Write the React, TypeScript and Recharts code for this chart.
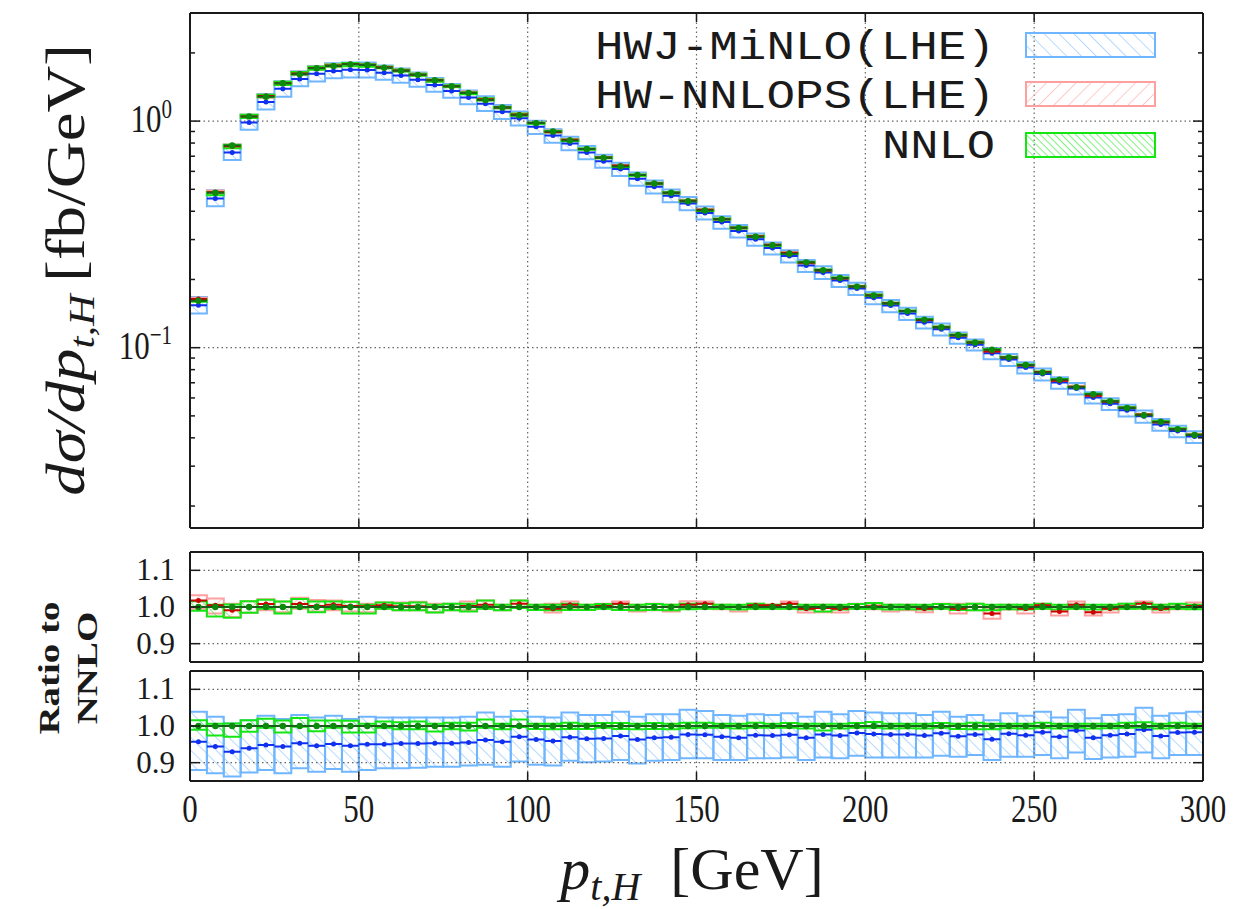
import React from 'react';
import { ComposedChart, XAxis, YAxis, ReferenceArea, ReferenceLine, Line, Scatter } from 'recharts';

// bins in p_t,H [GeV], 5 GeV wide
const binLo = [
  0, 5, 10, 15, 20, 25, 30, 35, 40, 45, 50, 55, 60, 65, 70, 75, 80, 85, 90, 95,
  100, 105, 110, 115, 120, 125, 130, 135, 140, 145, 150, 155, 160, 165, 170, 175, 180, 185, 190, 195,
  200, 205, 210, 215, 220, 225, 230, 235, 240, 245, 250, 255, 260, 265, 270, 275, 280, 285, 290, 295,
];
const binWidth = 5;

// NNLO dsigma/dpt [fb/GeV]
const nnloXsec = [
  0.161, 0.483, 0.781, 1.049, 1.28, 1.47, 1.61, 1.71, 1.75, 1.78,
  1.77, 1.72, 1.67, 1.6, 1.516, 1.426, 1.33, 1.24, 1.149, 1.06,
  0.98, 0.9, 0.822, 0.753, 0.689, 0.631, 0.578, 0.53, 0.483, 0.443,
  0.403, 0.369, 0.338, 0.309, 0.283, 0.26, 0.238, 0.22, 0.203, 0.186,
  0.17, 0.157, 0.145, 0.133, 0.123, 0.1137, 0.1055, 0.098, 0.0906, 0.0839,
  0.0778, 0.0723, 0.0669, 0.0623, 0.058, 0.0542, 0.0503, 0.0471, 0.0437, 0.0412,
];
// NNLO scale band, relative to NNLO
const nnloLo = [
  0.99, 0.974, 0.971, 0.984, 0.995, 0.982, 0.998, 0.986, 0.995, 0.982,
  0.982, 0.995, 0.991, 0.991, 0.985, 0.991, 0.988, 0.995, 0.991, 0.997,
  0.992, 0.991, 0.992, 0.992, 0.995, 0.992, 0.991, 0.992, 0.991, 0.994,
  0.995, 0.995, 0.993, 0.995, 0.995, 0.995, 0.993, 0.988, 0.993, 0.995,
  0.995, 0.993, 0.994, 0.993, 0.995, 0.992, 0.991, 0.991, 0.994, 0.993,
  0.995, 0.993, 0.995, 0.993, 0.994, 0.995, 0.996, 0.993, 0.995, 0.994,
];
const nnloHi = [
  1.016, 1.006, 1.007, 1.016, 1.02, 1.015, 1.022, 1.015, 1.015, 1.014,
  1.006, 1.012, 1.01, 1.012, 1.006, 1.009, 1.009, 1.018, 1.006, 1.018,
  1.006, 1.006, 1.009, 1.006, 1.008, 1.008, 1.006, 1.008, 1.006, 1.009,
  1.009, 1.006, 1.006, 1.009, 1.006, 1.008, 1.006, 1.006, 1.006, 1.008,
  1.011, 1.006, 1.006, 1.006, 1.008, 1.006, 1.009, 1.006, 1.006, 1.006,
  1.009, 1.006, 1.006, 1.006, 1.006, 1.009, 1.01, 1.006, 1.009, 1.006,
];
const nnloSelf = binLo.map(() => 1); // NNLO / NNLO

// HW-NNLOPS(LHE) / NNLO
const nnlopsRatio = [
  1.018, 1.005, 0.991, 1.0, 1.008, 1.0, 1.008, 1.003, 1.006, 1.003,
  1.002, 1.005, 1.002, 1.002, 1.0, 1.0, 1.003, 1.006, 1.0, 1.009,
  1.0, 0.995, 1.006, 1.0, 1.003, 1.009, 1.0, 1.0, 1.0, 1.006,
  1.009, 1.0, 1.0, 1.005, 1.005, 1.009, 0.995, 0.997, 0.995, 1.0,
  1.002, 1.0, 1.0, 0.995, 1.0, 0.995, 1.0, 0.982, 1.0, 0.995,
  1.005, 0.988, 1.006, 0.986, 0.995, 1.002, 1.009, 0.995, 1.0, 1.003,
];
const nnlopsLo = [
  0.995, 0.982, 0.973, 0.984, 0.991, 0.986, 0.995, 0.988, 0.991, 0.988,
  0.986, 0.995, 0.991, 0.991, 0.986, 0.991, 0.991, 0.995, 0.991, 0.997,
  0.993, 0.985, 0.994, 0.993, 0.995, 0.993, 0.988, 0.991, 0.988, 0.995,
  0.995, 0.994, 0.988, 0.995, 0.995, 0.995, 0.985, 0.986, 0.985, 0.995,
  0.994, 0.988, 0.991, 0.986, 0.995, 0.982, 0.991, 0.968, 0.993, 0.982,
  0.995, 0.977, 0.995, 0.977, 0.985, 0.995, 0.995, 0.985, 0.994, 0.995,
];
const nnlopsHi = [
  1.032, 1.023, 1.009, 1.016, 1.021, 1.015, 1.025, 1.019, 1.018, 1.014,
  1.009, 1.012, 1.012, 1.014, 1.009, 1.009, 1.015, 1.018, 1.006, 1.018,
  1.006, 1.009, 1.015, 1.006, 1.009, 1.015, 1.006, 1.009, 1.006, 1.016,
  1.015, 1.006, 1.005, 1.009, 1.006, 1.015, 1.005, 1.006, 1.005, 1.009,
  1.009, 1.006, 1.006, 1.005, 1.009, 1.009, 1.009, 0.995, 1.006, 1.005,
  1.009, 1.0, 1.015, 1.0, 1.005, 1.009, 1.015, 1.006, 1.006, 1.012,
];

// HWJ-MiNLO(LHE) / NNLO
const minloRatio = [
  0.957, 0.944, 0.93, 0.939, 0.948, 0.944, 0.953, 0.946, 0.951, 0.946,
  0.95, 0.95, 0.952, 0.952, 0.953, 0.953, 0.955, 0.962, 0.957, 0.971,
  0.963, 0.959, 0.969, 0.965, 0.966, 0.973, 0.963, 0.968, 0.969, 0.977,
  0.976, 0.971, 0.968, 0.975, 0.974, 0.976, 0.968, 0.977, 0.974, 0.981,
  0.978, 0.977, 0.977, 0.974, 0.98, 0.972, 0.977, 0.964, 0.979, 0.975,
  0.983, 0.971, 0.988, 0.968, 0.975, 0.978, 0.99, 0.973, 0.982, 0.983,
];
const minloLo = [
  0.88, 0.871, 0.862, 0.873, 0.88, 0.871, 0.885, 0.875, 0.883, 0.875,
  0.88, 0.885, 0.885, 0.886, 0.889, 0.889, 0.892, 0.894, 0.889, 0.903,
  0.894, 0.892, 0.905, 0.901, 0.903, 0.907, 0.898, 0.905, 0.907, 0.912,
  0.912, 0.907, 0.907, 0.912, 0.912, 0.914, 0.907, 0.914, 0.912, 0.919,
  0.914, 0.914, 0.914, 0.914, 0.919, 0.916, 0.921, 0.907, 0.916, 0.916,
  0.921, 0.912, 0.928, 0.91, 0.914, 0.916, 0.928, 0.912, 0.921, 0.921,
];
const minloHi = [
  1.039, 1.025, 1.007, 1.016, 1.028, 1.019, 1.03, 1.023, 1.028, 1.019,
  1.025, 1.023, 1.023, 1.023, 1.023, 1.023, 1.025, 1.037, 1.025, 1.041,
  1.025, 1.023, 1.037, 1.03, 1.03, 1.039, 1.025, 1.032, 1.032, 1.044,
  1.041, 1.03, 1.028, 1.032, 1.03, 1.035, 1.025, 1.039, 1.032, 1.041,
  1.037, 1.035, 1.035, 1.03, 1.039, 1.025, 1.03, 1.016, 1.035, 1.028,
  1.039, 1.023, 1.044, 1.021, 1.03, 1.032, 1.05, 1.028, 1.035, 1.039,
];

const xTicks = [0, 50, 100, 150, 200, 250, 300];
const xGrid = [50, 100, 150, 200, 250];
const logTicks = [0.02, 0.03, 0.04, 0.05, 0.06, 0.07, 0.08, 0.09, 0.1, 0.2, 0.3, 0.4, 0.5, 0.6, 0.7, 0.8, 0.9, 1, 2, 3];
const logMajor = [0.1, 1];
const ratioTicks = [0.9, 1.0, 1.1];

const SERIF = '"Liberation Serif", "Times New Roman", serif';
const MONO = '"Liberation Mono", "DejaVu Sans Mono", monospace';
const INK = '#1a1a1a';
const GRID = '#666';

type Style = { box: string; hatch: string; line: string; dot: string; r: number };
const MINLO: Style = { box: '#6fb6ff', hatch: 'hatchBlue', line: '#1030f0', dot: '#1030f0', r: 2.5 };
const NNLOPS: Style = { box: '#ffa0a0', hatch: 'hatchRed', line: '#cc0000', dot: '#cc0000', r: 2.5 };
const NNLO: Style = { box: '#14e614', hatch: 'hatchGreen', line: '#1c5c1c', dot: '#0b8a0b', r: 3.2 };

type Bin = { x0: number; x1: number; xc: number; c: number; lo: number; hi: number };

function buildBins(c: number[], lo: number[], hi: number[], norm?: number[]): Bin[] {
  return binLo.map((x0, i) => {
    const k = norm ? norm[i] : 1;
    return { x0, x1: x0 + binWidth, xc: x0 + binWidth / 2, c: c[i] * k, lo: lo[i] * k, hi: hi[i] * k };
  });
}

function boxes(id: string, bins: Bin[], s: Style) {
  return bins.map((b, i) => (
    <ReferenceArea
      key={`${id}-box-${i}`}
      x1={b.x0}
      x2={b.x1}
      y1={b.lo}
      y2={b.hi}
      fill={`url(#${s.hatch})`}
      fillOpacity={1}
      stroke={s.box}
      strokeWidth={2}
      ifOverflow="hidden"
    />
  ));
}

function marks(id: string, bins: Bin[], s: Style) {
  // one flat segment per bin, broken between bins
  const steps: { x: number; y: number | null }[] = [];
  bins.forEach((b) => {
    steps.push({ x: b.x0, y: b.c }, { x: b.x1, y: b.c }, { x: b.x1, y: null });
  });
  const pts = bins.map((b) => ({ x: b.xc, y: b.c }));
  return [
    <Line key={`${id}-line`} data={steps} dataKey="y" type="linear" stroke={s.line} strokeWidth={2}
      dot={false} activeDot={false} connectNulls={false} isAnimationActive={false} />,
    <Scatter key={`${id}-dots`} data={pts} dataKey="y" fill={s.dot} isAnimationActive={false}
      shape={(p: any) => <circle cx={p.cx} cy={p.cy} r={s.r} fill={s.dot} />} />,
  ];
}

function grid(yValues: number[]) {
  return [
    ...xGrid.map((x) => (
      <ReferenceLine key={`gx${x}`} x={x} stroke={GRID} strokeWidth={1.2} strokeDasharray="1.5 3" />
    )),
    ...yValues.map((y) => (
      <ReferenceLine key={`gy${y}`} y={y} stroke={GRID} strokeWidth={1.2} strokeDasharray="1.5 3" />
    )),
  ];
}

const near = (a: number, list: number[]) => list.some((b) => Math.abs(a - b) < 1e-9);

function logLabel(v: number, x: number, y: number) {
  return (
    <text transform={`translate(${x - 18},${y + 11}) scale(1,1.3)`} textAnchor="end" fontFamily={SERIF} fontSize={31} fill={INK}>
      10<tspan dy={-11} fontSize={21}>{v === 1 ? '0' : '\u22121'}</tspan>
    </text>
  );
}

function ratioLabel(v: number, x: number, y: number) {
  return (
    <text x={x - 15} y={y + 10} textAnchor="end" fontFamily={SERIF} fontSize={31} fill={INK}>
      {v.toFixed(1)}
    </text>
  );
}

function axes(o: {
  log?: boolean;
  domain: [number, number];
  ticks: number[];
  major: number[];
  label: (v: number, x: number, y: number) => React.ReactNode;
  xLabels: boolean;
  bottomH: number;
}) {
  const frame = { stroke: INK, strokeWidth: 2 };
  const common = { tickLine: false, tickSize: 0, tickMargin: 0, interval: 0 as const, axisLine: frame, allowDataOverflow: true };
  return [
    <XAxis key="xb" xAxisId={0} dataKey="x" type="number" domain={[0, 300]} ticks={xTicks} height={o.bottomH} {...common}
      tick={(p: any) => (
        <g>
          <line x1={p.x} x2={p.x} y1={p.y} y2={p.y - 9} stroke={INK} strokeWidth={1.5} />
          {o.xLabels && (
            <text transform={`translate(${p.x},${p.y + 41}) scale(1,1.3)`} textAnchor="middle" fontFamily={SERIF} fontSize={31} fill={INK}>
              {p.payload.value}
            </text>
          )}
        </g>
      )} />,
    <XAxis key="xt" xAxisId="top" orientation="top" dataKey="x" type="number" domain={[0, 300]} ticks={xTicks} height={5} {...common}
      tick={(p: any) => <line x1={p.x} x2={p.x} y1={p.y} y2={p.y + 9} stroke={INK} strokeWidth={1.5} />} />,
    <YAxis key="yl" yAxisId={0} dataKey="y" type="number" scale={o.log ? 'log' : 'linear'} domain={o.domain} ticks={o.ticks} width={80} {...common}
      tick={(p: any) => {
        const m = near(p.payload.value, o.major);
        return (
          <g>
            <line x1={p.x} x2={p.x + (m ? 10 : 5)} y1={p.y} y2={p.y} stroke={INK} strokeWidth={1.5} />
            {m && o.label(p.payload.value, p.x, p.y)}
          </g>
        );
      }} />,
    <YAxis key="yr" yAxisId="r" orientation="right" dataKey="y" type="number" scale={o.log ? 'log' : 'linear'} domain={o.domain} ticks={o.ticks} width={30} {...common}
      tick={(p: any) => {
        const m = near(p.payload.value, o.major);
        return <line x1={p.x - (m ? 10 : 5)} x2={p.x} y1={p.y} y2={p.y} stroke={INK} strokeWidth={1.5} />;
      }} />,
  ];
}

function Hatches() {
  const pat = (id: string, color: string, gap: number, angle: number) => (
    <pattern id={id} patternUnits="userSpaceOnUse" width={gap} height={gap} patternTransform={`rotate(${angle})`}>
      <line x1={0} y1={0} x2={0} y2={gap} stroke={color} strokeWidth={1.3} />
    </pattern>
  );
  return (
    <svg width={0} height={0} style={{ position: 'absolute' }}>
      <defs>
        {pat('hatchBlue', '#8cc4ff', 9, -45)}
        {pat('hatchRed', '#ffb0b0', 9, 45)}
        {pat('hatchGreen', '#3cec3c', 9, -45)}
        {pat('legBlue', '#8cc4ff', 10.5, -45)}
        {pat('legRed', '#ffb0b0', 10.5, 45)}
        {pat('legGreen', '#3cec3c', 5, -45)}
      </defs>
    </svg>
  );
}

export default function App() {
  const minloTop = buildBins(minloRatio, minloLo, minloHi, nnloXsec);
  const nnlopsTop = buildBins(nnlopsRatio, nnlopsLo, nnlopsHi, nnloXsec);
  const nnloTop = buildBins(nnloSelf, nnloLo, nnloHi, nnloXsec);
  const minloR = buildBins(minloRatio, minloLo, minloHi);
  const nnlopsR = buildBins(nnlopsRatio, nnlopsLo, nnlopsHi);
  const nnloR = buildBins(nnloSelf, nnloLo, nnloHi);

  const W = 1239;
  const margin = (top: number, bottom: number) => ({ top, bottom, left: 110, right: 6 });

  const legendRows = [
    { name: 'HWJ-MiNLO(LHE)', fill: 'legBlue', stroke: '#6fb6ff', y: 33, base: 59, len: 400 },
    { name: 'HW-NNLOPS(LHE)', fill: 'legRed', stroke: '#ffa0a0', y: 82, base: 108, len: 400 },
    { name: 'NNLO', fill: 'legGreen', stroke: '#14e614', y: 133, base: 158, len: 113 },
  ];

  return (
    <div style={{ position: 'absolute', left: 0, top: 0, width: W, height: 909, background: '#fff', overflow: 'hidden' }}>
      <Hatches />
      {/* main distribution */}
      <div style={{ position: 'absolute', left: 0, top: 0 }}>
        <ComposedChart width={W} height={540} margin={margin(8, 7)}>
          {axes({ log: true, domain: [0.016, 3], ticks: logTicks, major: logMajor, label: logLabel, xLabels: false, bottomH: 5 })}
          {grid([0.1, 1])}
          {boxes('minlo', minloTop, MINLO)}
          {boxes('nnlops', nnlopsTop, NNLOPS)}
          {boxes('nnlo', nnloTop, NNLO)}
          {marks('minlo', minloTop, MINLO)}
          {marks('nnlops', nnlopsTop, NNLOPS)}
          {marks('nnlo', nnloTop, NNLO)}
        </ComposedChart>
      </div>
      {/* ratio: HW-NNLOPS / NNLO */}
      <div style={{ position: 'absolute', left: 0, top: 540 }}>
        <ComposedChart width={W} height={130} margin={margin(7, 3)}>
          {axes({ domain: [0.85, 1.15], ticks: ratioTicks, major: ratioTicks, label: ratioLabel, xLabels: false, bottomH: 5 })}
          {grid([0.9, 1.0, 1.1])}
          {boxes('nnlops', nnlopsR, NNLOPS)}
          {boxes('nnlo', nnloR, NNLO)}
          {marks('nnlops', nnlopsR, NNLOPS)}
          {marks('nnlo', nnloR, NNLO)}
        </ComposedChart>
      </div>
      {/* ratio: HWJ-MiNLO / NNLO */}
      <div style={{ position: 'absolute', left: 0, top: 662 }}>
        <ComposedChart width={W} height={247} margin={margin(4, 68)}>
          {axes({ domain: [0.85, 1.15], ticks: ratioTicks, major: ratioTicks, label: ratioLabel, xLabels: true, bottomH: 60 })}
          {grid([0.9, 1.0, 1.1])}
          {boxes('minlo', minloR, MINLO)}
          {boxes('nnlo', nnloR, NNLO)}
          {marks('minlo', minloR, MINLO)}
          {marks('nnlo', nnloR, NNLO)}
        </ComposedChart>
      </div>
      {/* titles and legend */}
      <svg width={W} height={909} style={{ position: 'absolute', left: 0, top: 0, pointerEvents: 'none' }}>
        <text transform="translate(84,270) rotate(-90) scale(1.2,1)" textAnchor="middle" fontFamily={SERIF} fontSize={54} fill={INK}>
          <tspan fontStyle="italic">d{'\u03c3'}/dp</tspan>
          <tspan fontStyle="italic" fontSize={36} dy={10}>t,H</tspan>
          <tspan dy={-10}>{'\u2009'}[fb/GeV]</tspan>
        </text>
        <text transform="translate(59,668) rotate(-90) scale(1.3,1)" textAnchor="middle" fontFamily={SERIF} fontWeight="bold" fontSize={30} fill={INK}>
          Ratio to
        </text>
        <text transform="translate(97,668) rotate(-90) scale(1.3,1)" textAnchor="middle" fontFamily={SERIF} fontWeight="bold" fontSize={30} fill={INK}>
          NNLO
        </text>
        <text x={692} y={889} textAnchor="middle" fontFamily={SERIF} fontSize={60} fill={INK}>
          <tspan fontStyle="italic">p</tspan>
          <tspan fontStyle="italic" fontSize={40} dy={11}>t,H</tspan>
          <tspan dy={-11}>{'\u2002'}[GeV]</tspan>
        </text>
        {legendRows.map((r) => (
          <g key={r.name}>
            <text x={995} y={r.base} textAnchor="end" fontFamily={MONO} fontSize={41} fill={INK}
              textLength={r.len} lengthAdjust="spacingAndGlyphs">
              {r.name}
            </text>
            <rect x={1026} y={r.y} width={129} height={24} fill={`url(#${r.fill})`} stroke={r.stroke} strokeWidth={2} />
          </g>
        ))}
      </svg>
    </div>
  );
}
